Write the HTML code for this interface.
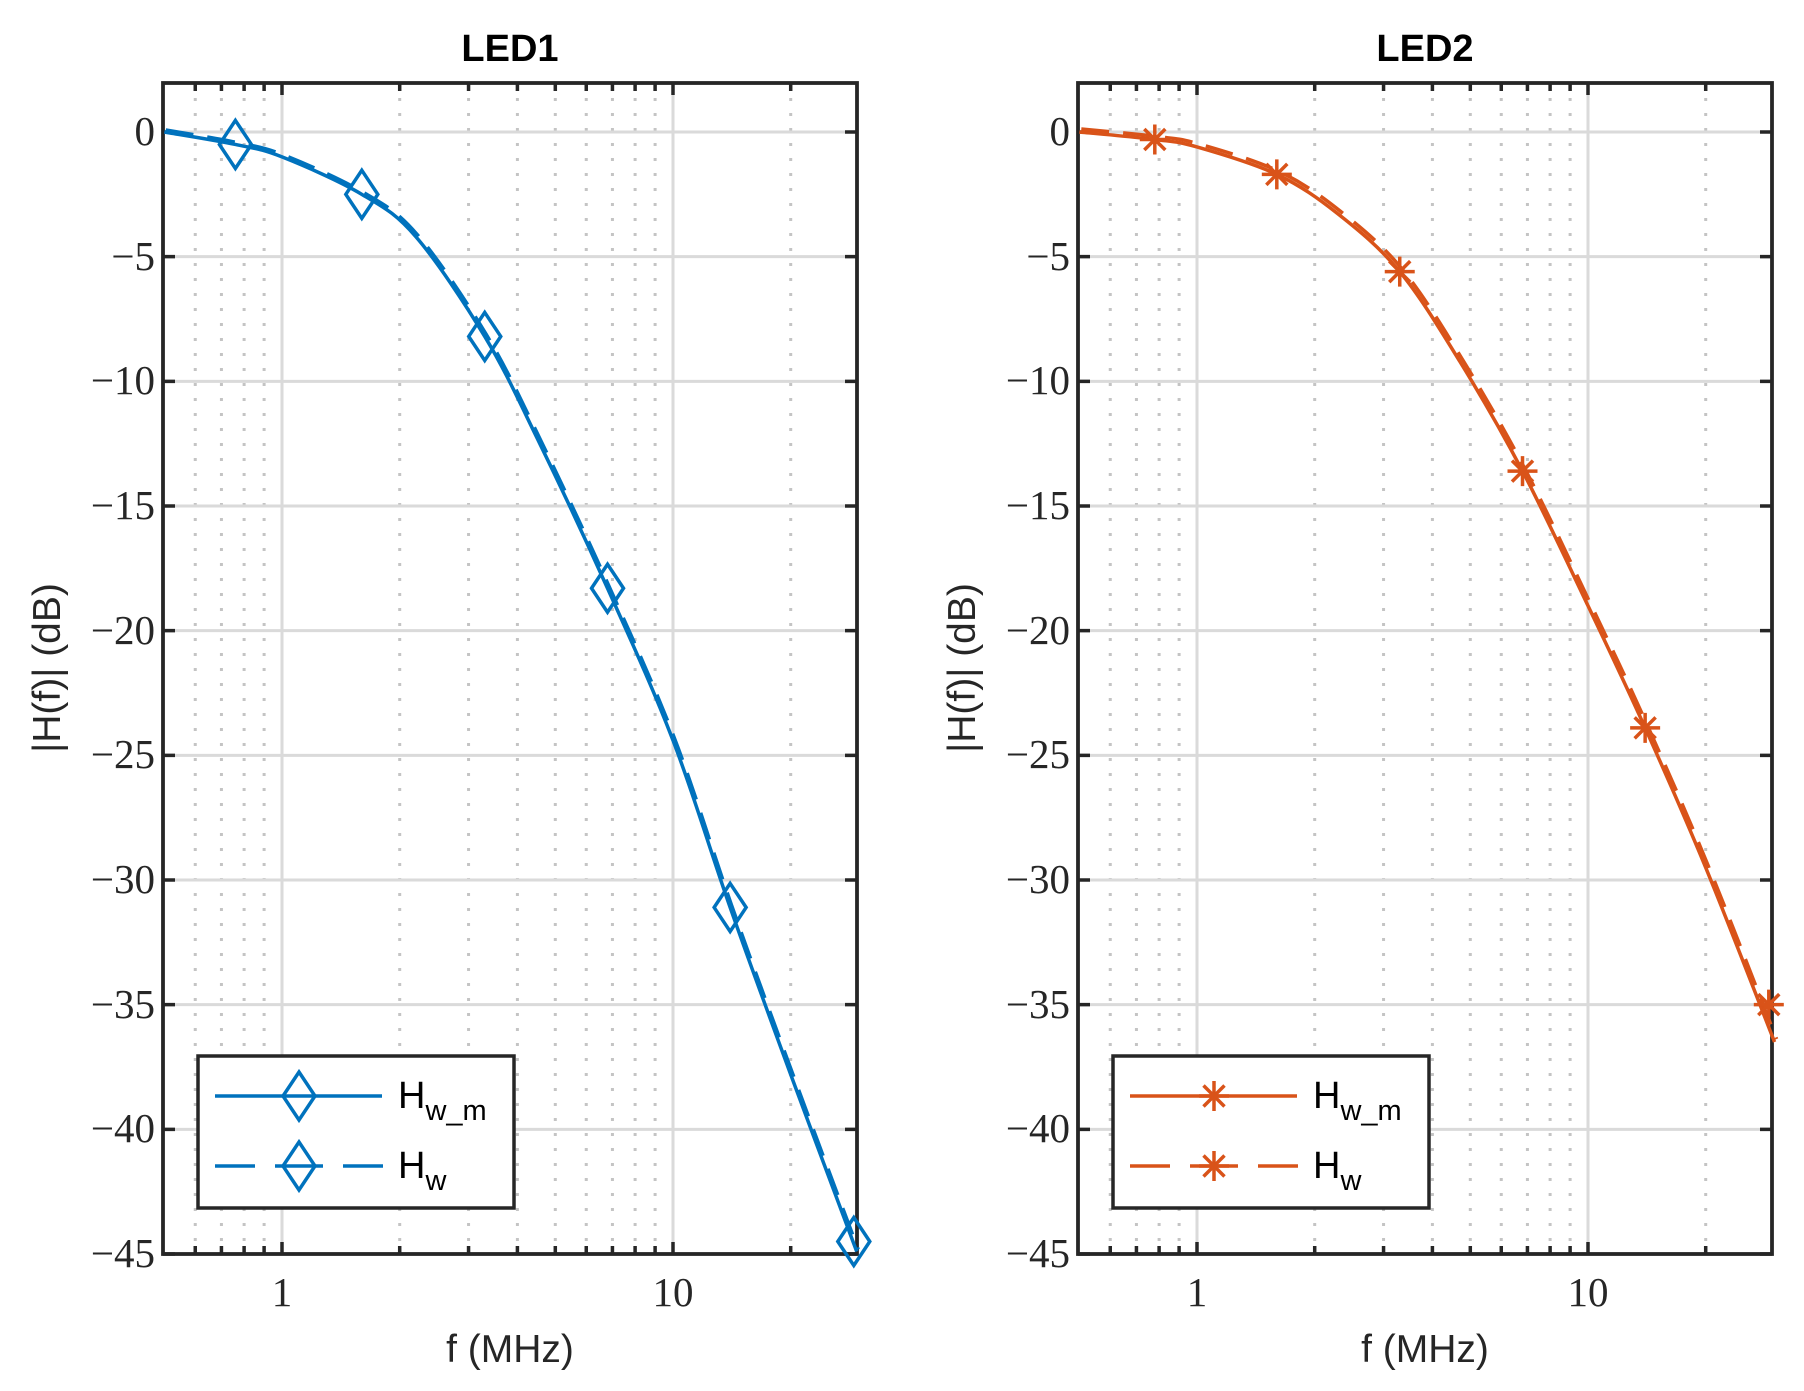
<!DOCTYPE html>
<html><head><meta charset="utf-8"><style>
html,body{margin:0;padding:0;background:#fff;}
svg{display:block;}
.t{font-family:"Liberation Serif",serif;font-size:41px;fill:#262626;}
.ti{font-family:"Liberation Sans",sans-serif;font-weight:bold;font-size:38px;fill:#000;}
.lb{font-family:"Liberation Sans",sans-serif;font-size:39px;fill:#262626;}
.lg{font-family:"Liberation Sans",sans-serif;font-size:38px;fill:#000;}
</style></head><body>
<svg id="s" width="1804" height="1391" xmlns="http://www.w3.org/2000/svg">
<g id="grid"></g>
<text class="ti" x="510" y="61" text-anchor="middle">LED1</text>
<text class="ti" x="1425" y="61" text-anchor="middle">LED2</text>
<g class="t" text-anchor="end">
<text x="155" y="145">0</text><text x="155" y="270">−5</text><text x="155" y="394">−10</text><text x="155" y="519">−15</text><text x="155" y="644">−20</text><text x="155" y="768">−25</text><text x="155" y="893">−30</text><text x="155" y="1018">−35</text><text x="155" y="1142">−40</text><text x="155" y="1267">−45</text>
<text x="1070" y="145">0</text><text x="1070" y="270">−5</text><text x="1070" y="394">−10</text><text x="1070" y="519">−15</text><text x="1070" y="644">−20</text><text x="1070" y="768">−25</text><text x="1070" y="893">−30</text><text x="1070" y="1018">−35</text><text x="1070" y="1142">−40</text><text x="1070" y="1267">−45</text>
</g>
<g class="t" text-anchor="middle">
<text x="282" y="1306">1</text><text x="673" y="1306">10</text>
<text x="1197" y="1306">1</text><text x="1588" y="1306">10</text>
</g>
<text class="lb" x="510" y="1362" text-anchor="middle">f (MHz)</text>
<text class="lb" x="1425" y="1362" text-anchor="middle">f (MHz)</text>
<text class="lb" transform="translate(60,668) rotate(-90)" text-anchor="middle">|H(f)| (dB)</text>
<text class="lb" transform="translate(975,668) rotate(-90)" text-anchor="middle">|H(f)| (dB)</text>
<g id="data"></g>
<g class="lg">
<text x="398" y="1108">H<tspan font-size="29" dy="12">w_m</tspan></text>
<text x="398" y="1178">H<tspan font-size="29" dy="12">w</tspan></text>
<text x="1313" y="1108">H<tspan font-size="29" dy="12">w_m</tspan></text>
<text x="1313" y="1178">H<tspan font-size="29" dy="12">w</tspan></text>
</g>
</svg>
<script>
const NS="http://www.w3.org/2000/svg";
function el(p,t,a){const e=document.createElementNS(NS,t);for(const k in a)e.setAttribute(k,a[k]);p.appendChild(e);return e;}
const G=document.getElementById('grid'),D=document.getElementById('data');
const T=83,B=1254,W=694;
function mk(x0){
 const X=f=>x0+119+391*Math.log10(f), Y=d=>132-d*24.933;
 return {X,Y};
}
function axes(x0){
 const {X,Y}=mk(x0);const x1=x0+W;
 const minors=[0.6,0.7,0.8,0.9,2,3,4,5,6,7,8,9,20];
 minors.forEach(f=>el(G,'line',{x1:X(f),x2:X(f),y1:T,y2:B,stroke:'#c4c4c4','stroke-width':3,'stroke-dasharray':'3 12'}));
 [1,10].forEach(f=>el(G,'line',{x1:X(f),x2:X(f),y1:T,y2:B,stroke:'#dadada','stroke-width':3}));
 for(let d=0;d>=-40;d-=5)el(G,'line',{x1:x0,x2:x1,y1:Y(d),y2:Y(d),stroke:'#dadada','stroke-width':3});
 let p='';
 for(let d=0;d>=-45;d-=5){p+=`M${x0},${Y(d)}h12M${x1},${Y(d)}h-12`;}
 [1,10].forEach(f=>{p+=`M${X(f)},${B}v-12M${X(f)},${T}v12`;});
 minors.forEach(f=>{p+=`M${X(f)},${B}v-8M${X(f)},${T}v8`;});
 el(G,'path',{d:p,stroke:'#262626','stroke-width':3.5,fill:'none'});
 el(G,'rect',{x:x0,y:T,width:W,height:B-T,fill:'none',stroke:'#262626','stroke-width':3.8});
 return {X,Y};
}
function curve(pts,X,Y,col,dash,dx,dy){
 const P=pts.map(p=>[X(p[0])+(dx||0),Y(p[1])+(dy||0)]);
 let d=`M${P[0][0]},${P[0][1]}`;
 for(let i=0;i<P.length-1;i++){
  const p0=P[Math.max(0,i-1)],p1=P[i],p2=P[i+1],p3=P[Math.min(P.length-1,i+2)];
  d+=`C${p1[0]+(p2[0]-p0[0])/6},${p1[1]+(p2[1]-p0[1])/6} ${p2[0]-(p3[0]-p1[0])/6},${p2[1]-(p3[1]-p1[1])/6} ${p2[0]},${p2[1]}`;
 }
 const a={d,stroke:col,'stroke-width':3.5,fill:'none'};if(dash)a['stroke-dasharray']='28 14';
 el(D,'path',a);
}
function diamond(x,y,col){el(D,'path',{d:`M${x},${y-24}L${x+16},${y}L${x},${y+24}L${x-16},${y}Z`,stroke:col,'stroke-width':3.5,fill:'none'});}
function star(x,y,col){el(D,'path',{d:`M${x-15},${y}h30M${x},${y-15}v30M${x-10.5},${y-10.5}l21,21M${x-10.5},${y+10.5}l21,-21`,stroke:col,'stroke-width':3.5,fill:'none'});}
const c1='#0072bd',c2='#d95319';
let A=axes(163);
const L1=[[0.5,0],[0.76,-0.5],[1.0,-1.0],[1.6,-2.5],[2.2,-4.2],[3.3,-8.2],[4.5,-12.3],[6.8,-18.3],[10,-24.4],[14,-31.1],[20,-37.8],[29.5,-44.9]];
curve(L1,A.X,A.Y,c1,false);curve(L1,A.X,A.Y,c1,true,1.5,-2);
[[0.76,-0.5],[1.6,-2.5],[3.3,-8.2],[6.8,-18.3],[14,-31.1],[29,-44.5]].forEach(p=>diamond(A.X(p[0]),A.Y(p[1]),c1));
let B2=axes(1078);
const L2=[[0.5,0],[0.78,-0.3],[1,-0.6],[1.6,-1.7],[2.3,-3.3],[3.3,-5.6],[4.7,-9.2],[6.8,-13.6],[10,-19],[14,-23.9],[20,-29.5],[30,-36.5]];
curve(L2,B2.X,B2.Y,c2,false);curve(L2,B2.X,B2.Y,c2,true,2,-3);
[[0.78,-0.3],[1.6,-1.7],[3.3,-5.6],[6.8,-13.6],[14,-23.9],[29,-35]].forEach(p=>star(B2.X(p[0]),B2.Y(p[1]),c2));
function legend(x0,col,m){
 el(D,'rect',{x:x0,y:1056,width:316,height:152,fill:'#fff',stroke:'#262626','stroke-width':3.5});
 el(D,'line',{x1:x0+17,x2:x0+184,y1:1096,y2:1096,stroke:col,'stroke-width':3.5});
 el(D,'path',{d:`M${x0+17},1166h40M${x0+77},1166h48M${x0+145},1166h40`,stroke:col,'stroke-width':3.5});
 m(x0+101,1096,col);m(x0+101,1166,col);
}
legend(198,c1,diamond);legend(1113,c2,star);
</script>
</body></html>
